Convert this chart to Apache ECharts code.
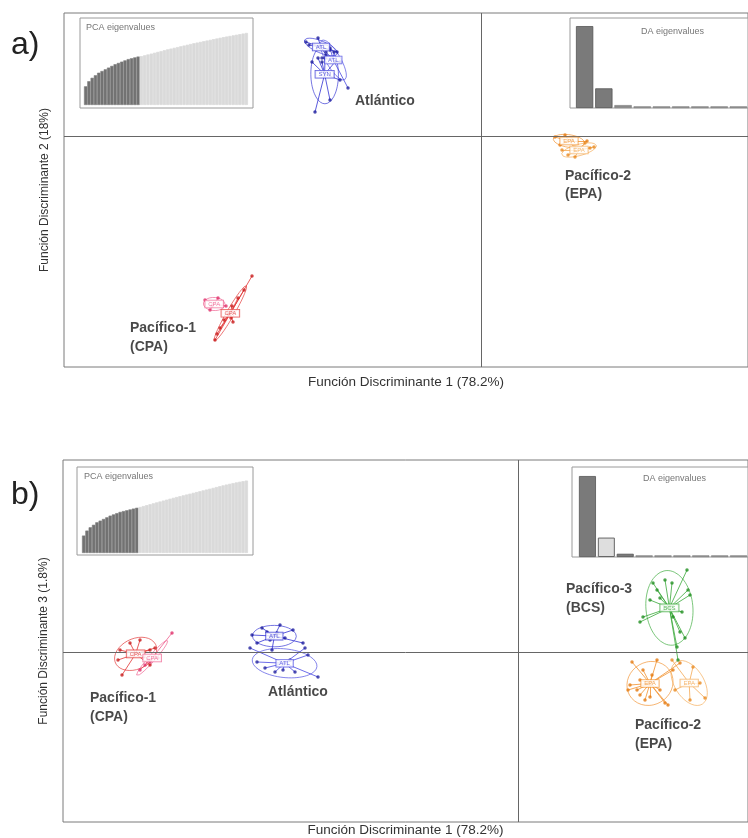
<!DOCTYPE html>
<html><head><meta charset="utf-8">
<script src="https://cdn.jsdelivr.net/npm/echarts/dist/echarts.min.js"></script>
<style>html,body{margin:0;padding:0;background:#fff}#c{width:748px;height:838px}</style>
</head><body><div id="c"></div>
<script>
// ---------- DATA ----------
const xTitleA = 'Función Discriminante 1 (78.2%)';
const yTitleA = 'Función Discriminante 2 (18%)';
const xTitleB = 'Función Discriminante 1 (78.2%)';
const yTitleB = 'Función Discriminante 3 (1.8%)';

// Panel a individual scores [LD1, LD2]
const a_ATL1 = [[-17.5,9.4],[-17.2,9.1],[-16.3,9.8],[-15.1,8.6],[-15.5,8.1],[-14.4,8.4]];
const a_ATL2 = [[-14.1,7.4],[-13.3,4.8],[-15.5,8.4],[-15.9,7.8],[-15.1,8.8],[-14.7,8.4]];
const a_SYN  = [[-16.6,2.4],[-15.1,3.6],[-16.9,7.4],[-16.3,7.8],[-14.1,5.6],[-14.6,7.4],[-15.6,7.8],[-15.9,7.4]];
const a_EPA1 = [[7.4,-0.1],[7.9,-0.9],[8.4,0.1],[9.1,-0.4],[9.4,-1.2],[10.6,-0.5]];
const a_EPA2 = [[8.7,-1.9],[9.4,-2.1],[10.9,-1.2],[11.3,-1.1],[10.4,-0.7],[8.1,-1.4]];
const a_CPA1 = [[-27.6,-16.4],[-26.3,-16.2],[-25.5,-17.0],[-27.1,-17.4],[-26.9,-17.0]];
const a_CPA2 = [[-22.9,-14.0],[-23.7,-15.4],[-24.3,-16.2],[-24.9,-17.0],[-25.3,-17.8],[-25.7,-18.4],[-26.1,-19.2],[-26.4,-19.8],[-26.6,-20.4],[-25.0,-18.2],[-24.8,-18.6]];

// Panel b individual scores [LD1, LD3]
const b_CPA1 = [[-39.8,0.2],[-40.0,-0.8],[-39.6,-2.3],[-38.8,0.9],[-37.8,1.2],[-36.8,0.2],[-36.3,0.4],[-36.8,-1.3]];
const b_CPA2 = [[-36.0,-0.6],[-34.6,1.9],[-37.3,-1.3],[-37.8,-1.8],[-36.8,-1.0],[-37.0,-0.8]];
const b_ATL1 = [[-25.1,2.0],[-26.6,1.7],[-26.1,0.9],[-22.5,2.2],[-21.5,0.9],[-24.1,1.9],[-25.6,2.4],[-23.8,2.7],[-23.3,1.4],[-24.6,0.2],[-24.8,1.2]];
const b_ATL2 = [[-21.0,-0.3],[-20.0,-2.5],[-26.1,-1.0],[-25.3,-1.6],[-22.3,-2.0],[-24.3,-2.0],[-26.8,0.4],[-21.3,0.4],[-23.5,-1.8],[-22.8,-0.8]];
const b_BCS  = [[16.9,8.2],[13.5,6.9],[13.9,6.2],[15.4,6.9],[12.5,3.5],[12.2,3.0],[17.2,5.7],[17.0,6.2],[15.5,3.5],[16.2,2.0],[16.7,1.4],[15.9,0.5],[14.2,5.4],[14.7,7.2],[13.2,5.2],[16.4,4.0],[16.0,-0.8]];
const b_EPA1 = [[11.4,-1.0],[11.2,-3.3],[12.2,-2.8],[11.9,-3.8],[13.2,-4.5],[14.7,-5.1],[12.5,-1.8],[13.9,-0.8],[12.7,-4.8],[14.2,-3.8],[13.4,-2.3],[11.0,-3.8],[12.2,-4.3],[15.5,-1.8],[16.2,-1.1],[15.0,-5.3]];
const b_EPA2 = [[17.5,-1.5],[18.2,-3.1],[18.7,-4.6],[17.2,-4.8],[15.7,-3.8],[15.4,-0.8]];

// Region labels [text, LD1, LDy]
const a_regionLabels = [['Atlántico',-12.6,3.5],['Pacífico-2',8.4,-4.0],['(EPA)',8.4,-5.8],['Pacífico-1',-35.1,-19.2],['(CPA)',-35.1,-21.1]];
const b_regionLabels = [['Pacífico-1',-42.8,-4.6],['(CPA)',-42.8,-6.5],['Atlántico',-25.0,-4.0],['Pacífico-3',4.8,6.3],['(BCS)',4.8,4.4],['Pacífico-2',11.7,-7.3],['(EPA)',11.7,-9.2]];

// Eigenvalue insets
const pcaEigA = [0.22,0.28,0.32,0.35,0.38,0.40,0.42,0.44,0.46,0.48,0.495,0.51,0.525,0.54,0.55,0.56,0.57,
  0.575,0.585,0.595,0.605,0.615,0.625,0.635,0.645,0.655,0.664,0.673,0.682,0.691,0.70,0.709,0.718,0.727,0.735,0.743,0.751,0.759,0.767,0.775,0.783,0.791,0.799,0.806,0.813,0.820,0.827,0.834,0.841,0.848];
const pcaRetainedA = 17;
const pcaEigB = [0.21,0.27,0.31,0.34,0.37,0.39,0.41,0.43,0.45,0.465,0.48,0.495,0.505,0.515,0.525,0.535,0.545,
  0.555,0.566,0.577,0.588,0.599,0.61,0.621,0.632,0.643,0.654,0.665,0.675,0.685,0.695,0.705,0.715,0.725,0.735,0.745,0.755,0.765,0.775,0.785,0.795,0.805,0.815,0.825,0.834,0.843,0.851,0.859,0.866,0.873];
const pcaRetainedB = 17;
const daEigA = [1.0,0.24,0.035,0.02,0.02,0.02,0.02,0.02,0.02];
const daShownA = [0,1];
const daEigB = [1.0,0.24,0.04,0.02,0.02,0.02,0.02,0.02,0.02];
const daShownB = [0,2];

// ---------- STYLES ----------
const palette = {
  atl:  {line:'#3434d4', pt:'#1c1c9c'},
  atl2: {line:'#4a4ae2', pt:'#22229f'},
  cpa:  {line:'#e33636', pt:'#c81c1c'},
  cpa2: {line:'#ef6090', pt:'#e0306a'},
  epa:  {line:'#f29230', pt:'#e57a10'},
  epa2: {line:'#f4aa55', pt:'#e88a20'},
  bcs:  {line:'#3caa3c', pt:'#1f8f1f'}
};
const groupsA = [
  {name:'ATL', pts:a_ATL1, c:'atl'}, {name:'ATL', pts:a_ATL2, c:'atl2'}, {name:'SYN', pts:a_SYN, c:'atl'},
  {name:'EPA', pts:a_EPA1, c:'epa'}, {name:'EPA', pts:a_EPA2, c:'epa2'},
  {name:'CPA', pts:a_CPA1, c:'cpa2'}, {name:'CPA', pts:a_CPA2, c:'cpa'}
];
const groupsB = [
  {name:'CPA', pts:b_CPA1, c:'cpa'}, {name:'CPA', pts:b_CPA2, c:'cpa2'},
  {name:'ATL', pts:b_ATL1, c:'atl'}, {name:'ATL', pts:b_ATL2, c:'atl2'},
  {name:'BCS', pts:b_BCS, c:'bcs'},
  {name:'EPA', pts:b_EPA1, c:'epa'}, {name:'EPA', pts:b_EPA2, c:'epa2'}
];

function stats(p){
  const n=p.length; let mx=0,my=0; p.forEach(q=>{mx+=q[0];my+=q[1];}); mx/=n; my/=n;
  let sxx=0,syy=0,sxy=0; p.forEach(q=>{const dx=q[0]-mx,dy=q[1]-my;sxx+=dx*dx;syy+=dy*dy;sxy+=dx*dy;});
  return {mx,my,sxx:sxx/n,syy:syy/n,sxy:sxy/n};
}
function ellipse(p,k){
  const s=stats(p); const tr=s.sxx+s.syy, det=s.sxx*s.syy-s.sxy*s.sxy;
  const d=Math.sqrt(Math.max(tr*tr/4-det,0)); const l1=tr/2+d, l2=Math.max(tr/2-d,0);
  const th=0.5*Math.atan2(2*s.sxy,s.sxx-s.syy); const a=k*Math.sqrt(l1), b=k*Math.sqrt(l2);
  const out=[]; for(let i=0;i<=72;i++){const t=2*Math.PI*i/72;
    out.push([s.mx+a*Math.cos(t)*Math.cos(th)-b*Math.sin(t)*Math.sin(th), s.my+a*Math.cos(t)*Math.sin(th)+b*Math.sin(t)*Math.cos(th)]);}
  return out;
}
const FONT = '"Liberation Sans", Arial, sans-serif';

function panelSeries(groups, labels, gi){
  const S=[];
  groups.forEach(g=>{
    const col=palette[g.c]; const s=stats(g.pts); const c=[s.mx,s.my];
    S.push({type:'line', xAxisIndex:gi, yAxisIndex:gi, data:ellipse(g.pts,1.5), showSymbol:false, symbol:'none', smooth:false,
      lineStyle:{color:col.line, width:0.8, opacity:0.85}, silent:true, z:3});
    S.push({type:'lines', coordinateSystem:'cartesian2d', xAxisIndex:gi, yAxisIndex:gi,
      data:g.pts.map(p=>({coords:[c,p]})), lineStyle:{color:col.line, width:0.9, opacity:0.9}, silent:true, z:3});
    S.push({type:'scatter', xAxisIndex:gi, yAxisIndex:gi, data:g.pts, symbolSize:3.5, itemStyle:{color:col.pt}, silent:true, z:4});
    S.push({type:'scatter', xAxisIndex:gi, yAxisIndex:gi, data:[{value:c, name:g.name}], symbolSize:0, silent:true, z:6,
      label:{show:true, position:'inside', formatter:'{b}', fontSize:6, color:col.line, fontFamily:FONT,
        backgroundColor:'#fff', borderColor:col.line, borderWidth:0.8, padding:[1,3,0,3]}});
  });
  S.push({type:'scatter', xAxisIndex:gi, yAxisIndex:gi, symbolSize:0, silent:true, z:7,
    data:labels.map(l=>({value:[l[1],l[2]], name:l[0]})),
    label:{show:true, position:'right', distance:0, formatter:'{b}', fontSize:14, fontWeight:'bold', color:'#1a1a1a', fontFamily:FONT},
    markLine:{silent:true, symbol:['none','none'], label:{show:false}, animation:false,
      lineStyle:{color:'#666', width:1, type:'solid'}, data:[{xAxis:0},{yAxis:0}]}});
  return S;
}

// ---------- LAYOUT ----------
const grids = [
  {left:64, top:13, width:684, height:354},          // 0 main a
  {left:80, top:18, width:173, height:90},           // 1 PCA a box
  {left:84, top:20, width:164, height:85},           // 2 PCA a bars
  {left:570, top:18, width:178, height:90},          // 3 DA a box
  {left:575, top:22, width:173, height:86},          // 4 DA a bars
  {left:63, top:460, width:685, height:362},         // 5 main b
  {left:77, top:467, width:176, height:88},          // 6 PCA b box
  {left:82, top:470, width:166, height:83},          // 7 PCA b bars
  {left:572, top:467, width:176, height:90},         // 8 DA b box
  {left:578, top:472, width:170, height:85}          // 9 DA b bars
];
const gridOpts = grids.map((g,i)=>{
  const main = (i===0||i===5), box=(i===1||i===3||i===6||i===8);
  return Object.assign({containLabel:false, show: main||box, borderColor: main?'#7a7a7a':'#9a9a9a', borderWidth:1,
    backgroundColor: box?'#fff':'transparent'}, g);
});
const hiddenAxis = (gi,type,extra)=>Object.assign({gridIndex:gi, type:type, axisLine:{show:false}, axisTick:{show:false},
  axisLabel:{show:false}, splitLine:{show:false}}, extra||{});
const xTitleStyle = {fontSize:13.5, color:'#333', fontFamily:FONT};
const yTitleStyle = {fontSize:12, color:'#333', fontFamily:FONT};

const xAxes = [
  hiddenAxis(0,'value',{min:-41.7,max:26.7,name:xTitleA,nameLocation:'middle',nameGap:8,
    nameTextStyle:xTitleStyle, axisLine:{show:false,onZero:false}}),
  hiddenAxis(1,'value',{min:0,max:1}),
  hiddenAxis(2,'category',{data:pcaEigA.map((v,i)=>i+1), boundaryGap:true}),
  hiddenAxis(3,'value',{min:0,max:1}),
  hiddenAxis(4,'category',{data:daEigA.map((v,i)=>i+1), boundaryGap:true}),
  hiddenAxis(5,'value',{min:-45.5,max:23.0,name:xTitleB,nameLocation:'middle',nameGap:1,
    nameTextStyle:xTitleStyle, axisLine:{show:false,onZero:false}}),
  hiddenAxis(6,'value',{min:0,max:1}),
  hiddenAxis(7,'category',{data:pcaEigB.map((v,i)=>i+1), boundaryGap:true}),
  hiddenAxis(8,'value',{min:0,max:1}),
  hiddenAxis(9,'category',{data:daEigB.map((v,i)=>i+1), boundaryGap:true})
];
const yAxes = [
  hiddenAxis(0,'value',{min:-23.1,max:12.3,name:yTitleA,nameLocation:'middle',nameGap:13,
    nameTextStyle:yTitleStyle, axisLine:{show:false,onZero:false}}),
  hiddenAxis(1,'value',{min:0,max:1}),
  hiddenAxis(2,'value',{min:0,max:1}),
  hiddenAxis(3,'value',{min:0,max:1}),
  hiddenAxis(4,'value',{min:0,max:1.05}),
  hiddenAxis(5,'value',{min:-17,max:19.2,name:yTitleB,nameLocation:'middle',nameGap:13,
    nameTextStyle:yTitleStyle, axisLine:{show:false,onZero:false}}),
  hiddenAxis(6,'value',{min:0,max:1}),
  hiddenAxis(7,'value',{min:0,max:1}),
  hiddenAxis(8,'value',{min:0,max:1}),
  hiddenAxis(9,'value',{min:0,max:1.05})
];

function pcaBars(vals, keep, gi){
  return {type:'bar', xAxisIndex:gi, yAxisIndex:gi, barCategoryGap:'0%', silent:true,
    data:vals.map((v,i)=>({value:v, itemStyle: i<keep ? {color:'#727272', borderColor:'#7e7e7e', borderWidth:0.6}
                                                       : {color:'#dadada', borderColor:'#dadada', borderWidth:0.8}}))};
}
function daBars(vals, shown, gi, lightSecond){
  return {type:'bar', xAxisIndex:gi, yAxisIndex:gi, barCategoryGap:'10%', silent:true,
    data:vals.map((v,i)=>{
      let st;
      if(lightSecond && i===1) st={color:'#dedede', borderColor:'#666', borderWidth:1};
      else if(shown.indexOf(i)>=0 || i===1) st={color:'#7a7a7a', borderColor:'#555', borderWidth:0.8};
      else st={color:'#8a8a8a', borderColor:'#777', borderWidth:0.5};
      return {value:v, itemStyle:st};
    })};
}

const series = [].concat(
  panelSeries(groupsA, a_regionLabels, 0),
  panelSeries(groupsB, b_regionLabels, 5),
  [pcaBars(pcaEigA, pcaRetainedA, 2), daBars(daEigA, daShownA, 4, false),
   pcaBars(pcaEigB, pcaRetainedB, 7), daBars(daEigB, daShownB, 9, true)]
);

const smallTitle = {fontSize:9, fontWeight:'normal', color:'#777', fontFamily:FONT};
const option = {
  animation:false,
  backgroundColor:'#fff',
  title:[
    {text:'a)', left:11, top:29, padding:0, textStyle:{fontSize:32, fontWeight:'normal', color:'#222', fontFamily:FONT}},
    {text:'b)', left:11, top:479, padding:0, textStyle:{fontSize:32, fontWeight:'normal', color:'#222', fontFamily:FONT}},
    {text:'PCA eigenvalues', left:86, top:23, padding:0, textStyle:smallTitle},
    {text:'DA eigenvalues', left:641, top:27, padding:0, textStyle:smallTitle},
    {text:'PCA eigenvalues', left:84, top:472, padding:0, textStyle:smallTitle},
    {text:'DA eigenvalues', left:643, top:474, padding:0, textStyle:smallTitle}
  ],
  grid: gridOpts,
  xAxis: xAxes,
  yAxis: yAxes,
  series: series
};
const chart = echarts.init(document.getElementById('c'), null, {renderer:'canvas'});
chart.setOption(option);
</script></body></html>
